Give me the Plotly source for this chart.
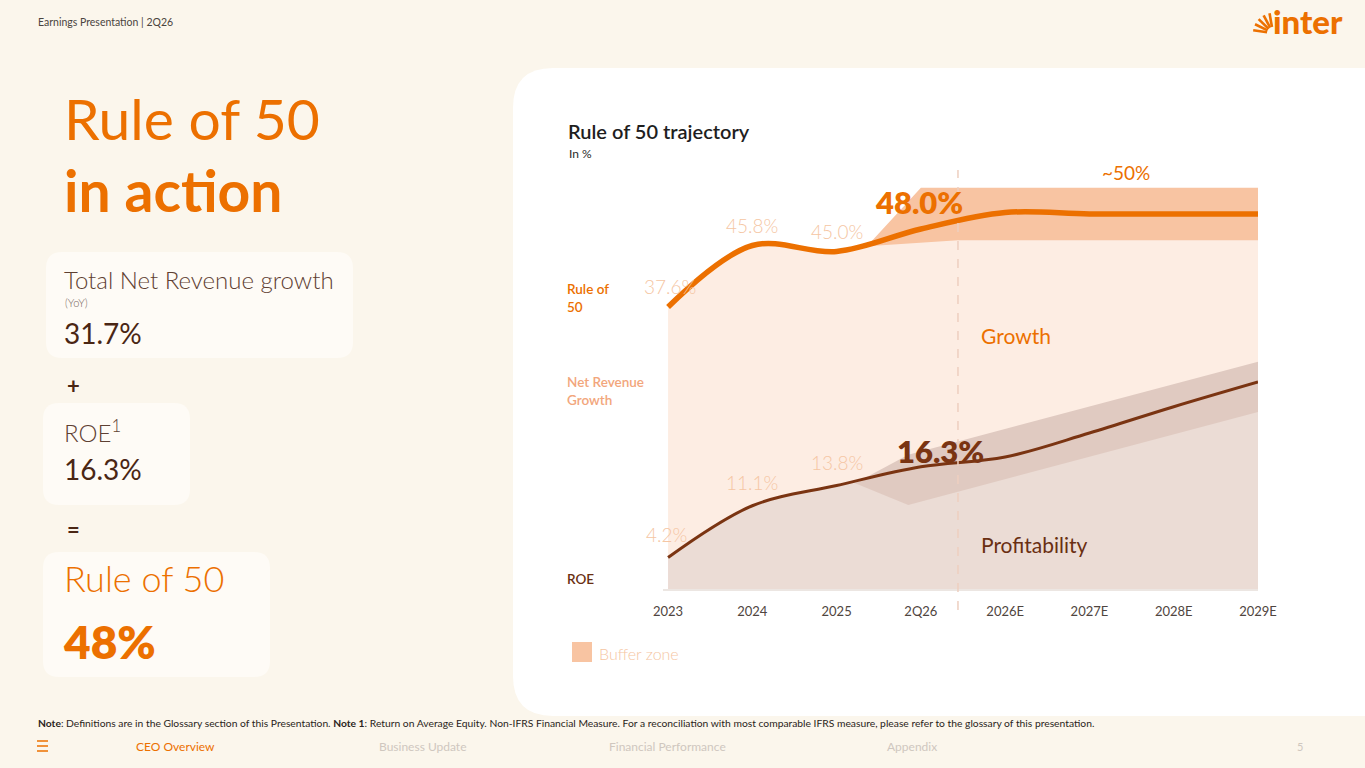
import math
import plotly.graph_objects as go

W, H = 1365, 768

# ---------------- data ----------------
categories = ["2023", "2024", "2025", "2Q26", "2026E", "2027E", "2028E", "2029E"]
rule_of_50 = [37.6, 45.8, 45.0, 48.0, 50.2, 50.0, 50.0, 50.0]
roe = [4.2, 11.1, 13.8, 16.3, 17.6, 20.8, 24.3, 27.6]
rule_of_50_labels = ["37.6%", "45.8%", "45.0%", "48.0%"]
roe_labels = ["4.2%", "11.1%", "13.8%", "16.3%"]
forecast_start = 3.44
# buffer zones (x in category-index units, y in %)
r50_buffer_x = [2.36, 3.0, 7.0, 7.0, 3.44, 2.36]
r50_buffer_y = [45.7, 53.5, 53.5, 46.5, 46.5, 45.7]
roe_buffer_x = [2.22, 2.85, 7.0, 7.0, 2.85, 2.22]
roe_buffer_y = [14.1, 17.9, 30.3, 23.6, 11.2, 14.1]
target_label = "~50%"

# ---------------- colours ----------------
BG = "#FBF6EC"
ORANGE = "#EC7000"
BROWN = "#7A3412"
PEACH_FILL = "#FDEDE3"
ROE_FILL = "#EBDCD5"
R50_BAND = "#F8C4A2"
ROE_BAND = "#E0CAC1"
LIGHT_LABEL = "#F5C6A3"
FONT = "Lato"


def X(px):
    return px / W


def Y(py):
    return 1 - py / H


def rrect(x0, y0, x1, y1, r):
    pts = [
        ("M", [(x0 + r, y0)]),
        ("L", [(x1 - r, y0)]),
        ("Q", [(x1, y0), (x1, y0 + r)]),
        ("L", [(x1, y1 - r)]),
        ("Q", [(x1, y1), (x1 - r, y1)]),
        ("L", [(x0 + r, y1)]),
        ("Q", [(x0, y1), (x0, y1 - r)]),
        ("L", [(x0, y0 + r)]),
        ("Q", [(x0, y0), (x0 + r, y0)]),
    ]
    s = ""
    for cmd, ps in pts:
        s += cmd + " " + " ".join(f"{X(a):.5f},{Y(b):.5f}" for a, b in ps) + " "
    return s + "Z"


xs = list(range(len(categories)))

fig = go.Figure()
# areas
fig.add_trace(go.Scatter(x=xs, y=rule_of_50, mode="lines", line=dict(width=0, shape="spline", color=PEACH_FILL),
                         fill="tozeroy", fillcolor=PEACH_FILL, hoverinfo="skip", showlegend=False))
fig.add_trace(go.Scatter(x=xs, y=roe, mode="lines", line=dict(width=0, shape="spline", color=ROE_FILL),
                         fill="tozeroy", fillcolor=ROE_FILL, hoverinfo="skip", showlegend=False))
# buffer zones
fig.add_trace(go.Scatter(x=r50_buffer_x, y=r50_buffer_y, mode="lines", line=dict(width=0, color=R50_BAND),
                         fill="toself", fillcolor=R50_BAND, hoverinfo="skip", showlegend=False))
fig.add_trace(go.Scatter(x=roe_buffer_x, y=roe_buffer_y, mode="lines", line=dict(width=0, color=ROE_BAND),
                         fill="toself", fillcolor=ROE_BAND, hoverinfo="skip", showlegend=False))
# lines
fig.add_trace(go.Scatter(x=xs, y=rule_of_50, mode="lines", line=dict(width=5.5, shape="spline", color=ORANGE),
                         hoverinfo="skip", showlegend=False))
fig.add_trace(go.Scatter(x=xs, y=roe, mode="lines", line=dict(width=3, shape="spline", color=BROWN),
                         hoverinfo="skip", showlegend=False))

shapes = []
# white chart card
shapes.append(dict(type="path", path=rrect(513, 68, 1420, 716, 40), xref="paper", yref="paper",
                   fillcolor="#FFFFFF", line=dict(width=0), layer="below"))
# left cards
for (a, b, c, d) in [(46, 252, 353, 358), (43, 403, 190, 505), (43, 552, 270, 677)]:
    shapes.append(dict(type="path", path=rrect(a, b, c, d, 16), xref="paper", yref="paper",
                       fillcolor="#FEFBF6", line=dict(width=0), layer="below"))
# forecast divider
shapes.append(dict(type="line", xref="x", yref="paper", x0=forecast_start, x1=forecast_start,
                   y0=Y(610), y1=Y(170), line=dict(color="#EDCFC0", width=1.5, dash="dash"), layer="above"))
# legend square
shapes.append(dict(type="rect", xref="paper", yref="paper", x0=X(572), x1=X(592), y0=Y(662), y1=Y(642),
                   fillcolor=R50_BAND, line=dict(width=0)))
# hamburger
for yy in (741, 746, 751):
    shapes.append(dict(type="line", xref="paper", yref="paper", x0=X(37), x1=X(48), y0=Y(yy), y1=Y(yy),
                       line=dict(color=ORANGE, width=1.5)))
# logo rays
cx, cy = 1273, 33
for ang in (100, 118, 136, 154, 172):
    t = math.radians(ang)
    shapes.append(dict(type="line", xref="paper", yref="paper",
                       x0=X(cx + 6 * math.cos(t)), y0=Y(cy - 6 * math.sin(t)),
                       x1=X(cx + 20 * math.cos(t)), y1=Y(cy - 20 * math.sin(t)),
                       line=dict(color=ORANGE, width=2.6)))

ann = []


def txt(x, y, text, size, color, weight=400, xanchor="left", family=FONT):
    ann.append(dict(x=X(x), y=Y(y), xref="paper", yref="paper", text=text, showarrow=False,
                    xanchor=xanchor, yanchor="middle", align="left" if xanchor == "left" else "center",
                    font=dict(size=size, color=color, family=family, weight=weight)))


# header / logo
txt(36, 22, "Earnings Presentation | 2Q26", 10.5, "#4A4440")
txt(1271, 21, "inter", 33, ORANGE, weight=900)
# big title
txt(62, 118, "Rule of 50", 57, ORANGE, weight=400)
txt(62, 190, "in action", 57, ORANGE, weight=700)
# card 1
txt(62, 279, "Total Net Revenue growth", 24, "#5E4032", weight=300)
txt(63, 302, "(YoY)", 11, "#7A6A62", weight=300)
txt(62, 333, "31.7%", 28, "#4A2614", weight=400)
txt(65, 385, "+", 22, "#4A2614", weight=700)
# card 2
txt(62, 431, "ROE<sup>1</sup>", 24, "#5E4032", weight=300)
txt(62, 469, "16.3%", 28, "#4A2614", weight=400)
txt(65, 529, "=", 22, "#4A2614", weight=700)
# card 3
txt(62, 578, "Rule of 50", 36, ORANGE, weight=300)
txt(61, 641, "48%", 46, ORANGE, weight=800)

# chart header
txt(566, 131, "Rule of 50 trajectory", 20, "#1E1E1E", weight=600)
txt(567, 153, "In %", 12, "#2A2A2A")
# side labels
txt(565, 298, "Rule of<br>50", 13.5, ORANGE, weight=600)
txt(565, 391, "Net Revenue<br>Growth", 13.5, "#F2A67C", weight=600)
txt(565, 579, "ROE", 13.5, "#6A2F12", weight=600)
# area labels
txt(979, 335, "Growth", 21, ORANGE, weight=400)
txt(979, 544, "Profitability", 21, "#6A2F12", weight=400)
txt(1126, 173, target_label, 19, ORANGE, weight=400, xanchor="center")
# legend text
txt(597, 653, "Buffer zone", 16, LIGHT_LABEL, weight=300)

# data labels
r50_off = [(2, 21), (0, 20), (0, 20), (-2, 27)]
for i, (lab, (dx, dy)) in enumerate(zip(rule_of_50_labels, r50_off)):
    bold = i == len(rule_of_50_labels) - 1
    ann.append(dict(x=xs[i], y=rule_of_50[i], xref="x", yref="y", text=lab, showarrow=False,
                    xshift=dx, yshift=dy, xanchor="center", yanchor="middle",
                    font=dict(size=31 if bold else 19, color=ORANGE if bold else LIGHT_LABEL,
                              family=FONT, weight=800 if bold else 300)))
roe_off = [(-2, 23), (0, 23), (0, 23), (20, 16)]
for i, (lab, (dx, dy)) in enumerate(zip(roe_labels, roe_off)):
    bold = i == len(roe_labels) - 1
    ann.append(dict(x=xs[i], y=roe[i], xref="x", yref="y", text=lab, showarrow=False,
                    xshift=dx, yshift=dy, xanchor="center", yanchor="middle",
                    font=dict(size=31 if bold else 19, color=BROWN if bold else LIGHT_LABEL,
                              family=FONT, weight=800 if bold else 300)))

# footer
txt(36, 723, "<b>Note</b>: Definitions are in the Glossary section of this Presentation. <b>Note 1</b>: Return on Average Equity. "
             "Non-IFRS Financial Measure. For a reconciliation with most comparable IFRS measure, please refer to the glossary of this presentation.",
    10.3, "#2A2420")
txt(134, 746, "CEO Overview", 12, ORANGE)
txt(377, 746, "Business Update", 12, "#CFC7BF")
txt(607, 746, "Financial Performance", 12, "#CFC7BF")
txt(885, 746, "Appendix", 12, "#CFC7BF")
txt(1295, 746, "5", 11, "#CFC7BF")

fig.update_layout(
    width=W, height=H, margin=dict(l=0, r=0, t=0, b=0, pad=0, autoexpand=False),
    paper_bgcolor=BG, plot_bgcolor="rgba(0,0,0,0)",
    shapes=shapes, annotations=ann, showlegend=False, hovermode=False,
    xaxis=dict(domain=[X(663), X(1258)], range=[-0.06, 7], tickvals=xs, ticktext=categories,
               showgrid=False, zeroline=False, showline=True, linecolor="#ECE6E2", linewidth=2,
               ticks="outside", ticklen=9, tickcolor="rgba(0,0,0,0)", automargin=False,
               tickfont=dict(size=13, color="#4F4540", family=FONT), fixedrange=True),
    yaxis=dict(domain=[Y(589), Y(169)], range=[0, 56], showgrid=False, zeroline=False, automargin=False,
               showticklabels=False, showline=False, fixedrange=True),
)

post = ("document.documentElement.style.margin='0';document.documentElement.style.overflow='hidden';"
        "document.body.style.margin='0';document.body.style.padding='0';document.body.style.overflow='hidden';"
        "var gd=document.getElementById('{plot_id}');Plotly.relayout(gd,{width:1365,height:768});")

fig.write_html("out.html", config={"displayModeBar": False, "responsive": False}, post_script=post)
